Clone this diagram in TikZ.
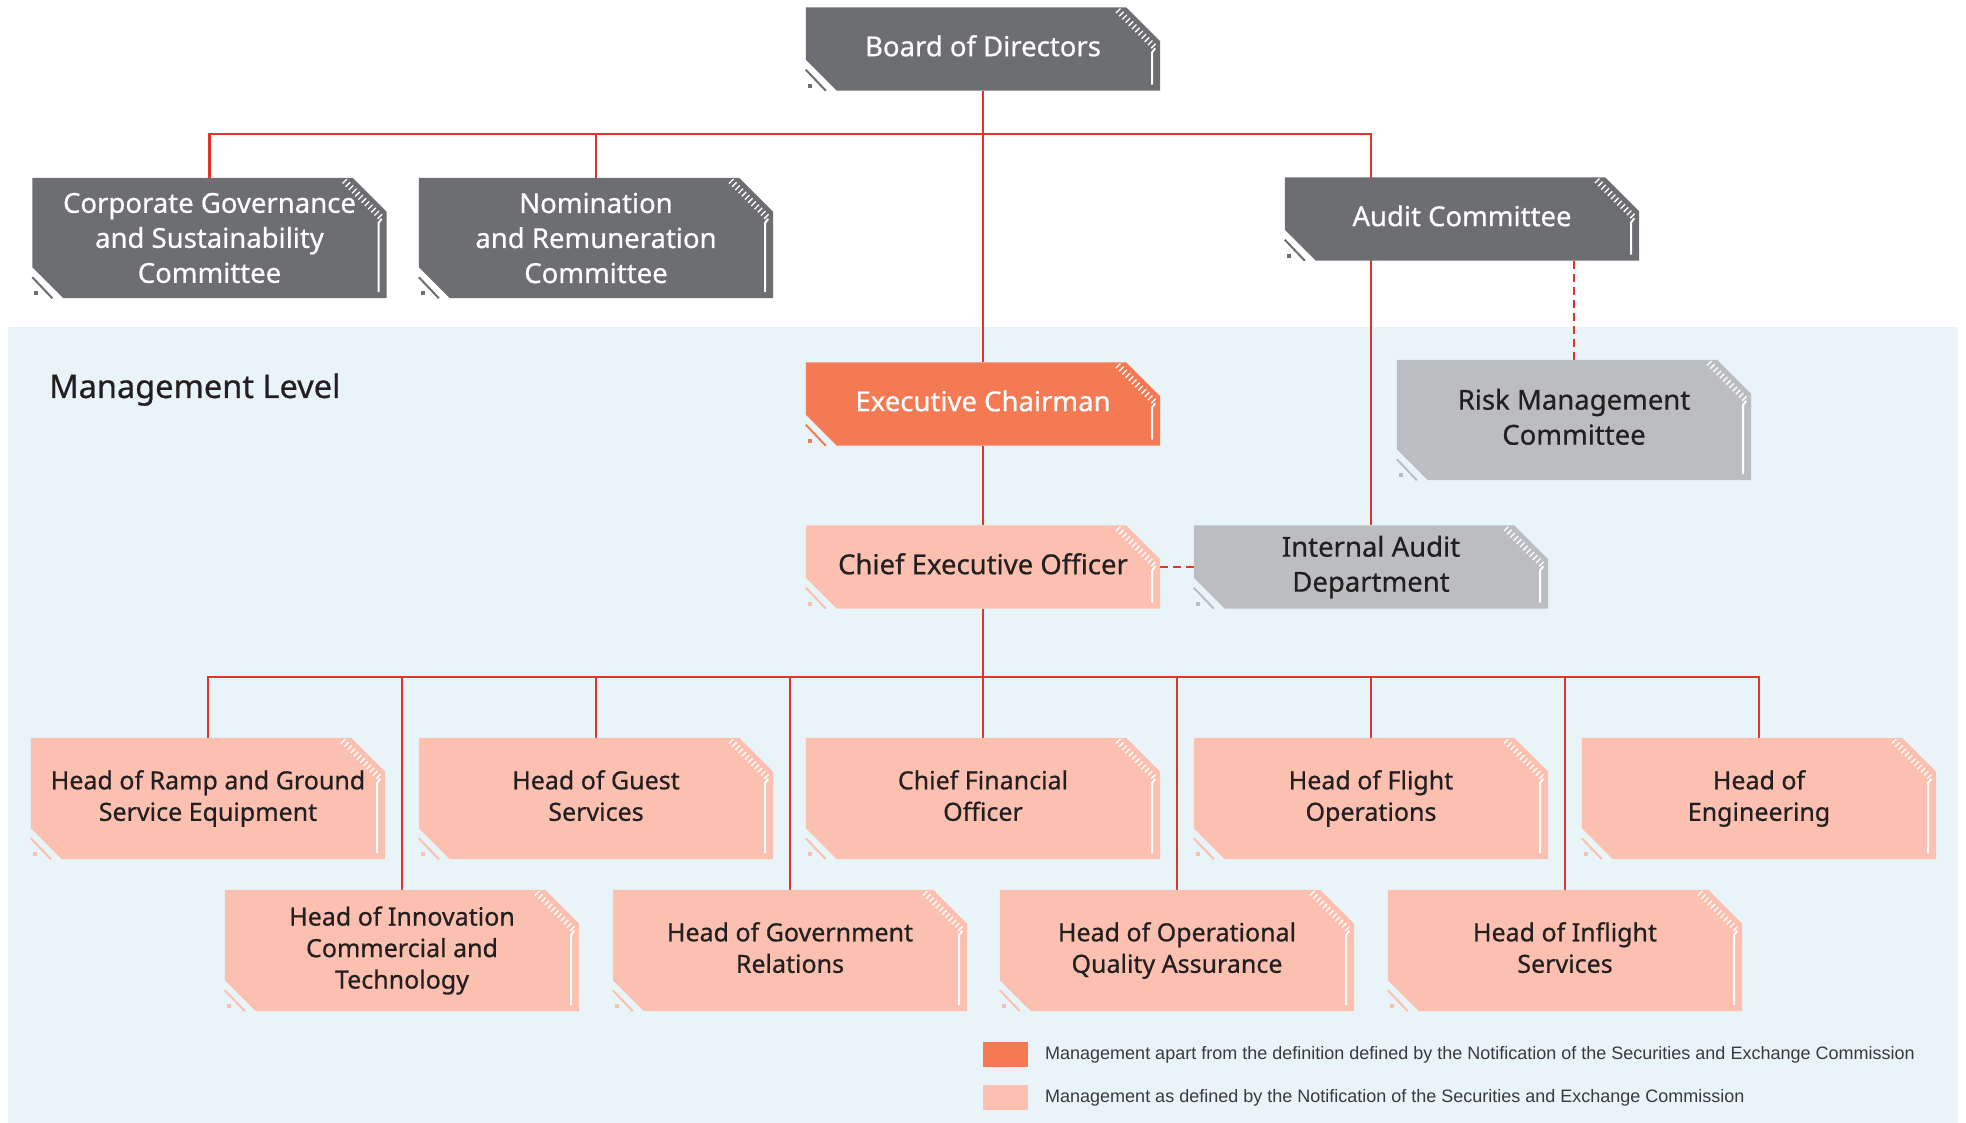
\documentclass[tikz,border=0pt]{standalone}
\usepackage{fontspec}
\setmainfont{Noto Sans}[RawFeature={embolden=0.6}]
\newfontfamily\legendfont{Liberation Sans}
\usetikzlibrary{calc}

\definecolor{cdark}{HTML}{6D6E72}
\definecolor{clight}{HTML}{BCBDC0}
\definecolor{corange}{HTML}{F47A54}
\definecolor{csalmon}{HTML}{FBC0AF}
\definecolor{cred}{HTML}{E5322B}
\definecolor{cbg}{HTML}{E9F4F9}
\definecolor{ctext}{HTML}{231F20}
\definecolor{clegend}{HTML}{3A3A3C}

\pgfdeclarelayer{bg}
\pgfdeclarelayer{lines}
\pgfdeclarelayer{shapes}
\pgfsetlayers{bg,lines,shapes,main}

% chamfered box with hatch and edge trims, drawn behind a named node
\newcommand\orgshape[2]{%
  \begin{pgfonlayer}{shapes}
    \fill[#2] (#1.north west) -- ($(#1.north east)+(-34,0)$) -- ($(#1.north east)+(0,34)$)
      -- (#1.south east) -- ($(#1.south west)+(31,0)$) -- ($(#1.south west)+(0,-31)$) -- cycle;
    \draw[#2,line width=2pt] ($(#1.south west)+(0,-21)$) -- ($(#1.south west)+(20,0)$);
    \fill[#2] ($(#1.south west)+(2,-3)$) rectangle ($(#1.south west)+(6,-7)$);
    \foreach \i in {0,...,11}{
      \draw[white,line width=1.3pt]
        ($(#1.north east)+(-42+3.2*\i-2.25,3.5+3.2*\i+2.25)$) -- ++(4.5,-4.5);
    }
    \draw[white,line width=2pt] ($(#1.north east)+(-5,41)$) -- ($(#1.north east)+(-8,45)$)
      -- ($(#1.south east)+(-8,-6)$);
  \end{pgfonlayer}}

\tikzset{
  orgbox/.style={inner sep=0pt, minimum width=354pt, align=center,
    font=\fontsize{27.5}{35}\selectfont,
    execute at end node={\vphantom{y}}},
  topbox/.style={orgbox, minimum height=83pt},
  tallbox/.style={orgbox, minimum height=120pt},
  % three-line committee boxes: no descender padding, taller first line
  commbox/.style={inner sep=0pt, minimum width=354pt, minimum height=120pt,
    align=center, text=white, font=\fontsize{27.5}{35}\selectfont,
    execute at begin node={\rule{0pt}{0.9em}}},
  rowbox/.style={orgbox, minimum height=121pt, text=ctext,
    font=\fontsize{25}{31.5}\selectfont},
  conn/.style={cred, line width=2.4pt},
  dashconn/.style={conn, dash pattern=on 8pt off 5pt},
  legsq/.style={inner sep=0pt, minimum width=45pt, minimum height=25pt},
  legtext/.style={inner sep=0pt, anchor=west, text=clegend,
    font=\legendfont\fontsize{18}{21}\selectfont},
}

\begin{document}
\begin{tikzpicture}[x=1pt,y=-1pt]
\useasboundingbox (0,0) rectangle (1966,1123);
\begin{pgfonlayer}{bg}
  \fill[white] (0,0) rectangle (1966,1123);
  \fill[cbg] (8,327) rectangle (1958,1123);
\end{pgfonlayer}

% board and committees
\node[topbox, text=white] (board) at (983,49) {Board of Directors};
\orgshape{board}{cdark}
\node[commbox] (cgsc) at (209.5,238) {Corporate Governance\\and Sustainability\\Committee};
\orgshape{cgsc}{cdark}
\node[commbox] (nrc) at (596,238) {Nomination\\and Remuneration\\Committee};
\orgshape{nrc}{cdark}
\node[topbox, text=white] (audit) at (1462,219) {Audit Committee};
\orgshape{audit}{cdark}

% management level
\node[anchor=base west, inner sep=0pt, text=ctext, font=\fontsize{32.5}{38}\selectfont]
  (mlevel) at (49,398) {Management Level};
\node[topbox, text=white] (exec) at (983,404) {Executive Chairman};
\orgshape{exec}{corange}
\node[tallbox, text=ctext] (risk) at (1574,420) {Risk Management\\Committee};
\orgshape{risk}{clight}
\node[topbox, text=ctext] (ceo) at (983,567) {Chief Executive Officer};
\orgshape{ceo}{csalmon}
\node[topbox, text=ctext] (ia) at (1371,567) {Internal Audit\\Department};
\orgshape{ia}{clight}

% heads, first row
\node[rowbox] (ramp) at (208,798.5) {Head of Ramp and Ground\\Service Equipment};
\orgshape{ramp}{csalmon}
\node[rowbox] (guest) at (596,798.5) {Head of Guest\\Services};
\orgshape{guest}{csalmon}
\node[rowbox] (cfo) at (983,798.5) {Chief Financial\\Officer};
\orgshape{cfo}{csalmon}
\node[rowbox] (flight) at (1371,798.5) {Head of Flight\\Operations};
\orgshape{flight}{csalmon}
\node[rowbox] (eng) at (1759,798.5) {Head of\\Engineering};
\orgshape{eng}{csalmon}

% heads, second row
\node[rowbox] (innov) at (402,950.5) {Head of Innovation\\Commercial and\\Technology};
\orgshape{innov}{csalmon}
\node[rowbox] (gov) at (790,950.5) {Head of Government\\Relations};
\orgshape{gov}{csalmon}
\node[rowbox] (oqa) at (1177,950.5) {Head of Operational\\Quality Assurance};
\orgshape{oqa}{csalmon}
\node[rowbox] (inflight) at (1565,950.5) {Head of Inflight\\Services};
\orgshape{inflight}{csalmon}

% reporting lines
\coordinate (bus1) at (983,134);
\coordinate (bus2) at (983,677);
\begin{pgfonlayer}{lines}
  \draw[conn] (board.south) -- (exec.north);
  \draw[conn] (cgsc.north) |- (bus1) -| (ia.north);
  \draw[conn] (nrc.north) -- (nrc.north |- bus1);
  \draw[dashconn] (audit.south -| risk.north) -- (risk.north);
  \draw[conn] (exec.south) -- (ceo.north);
  \draw[dashconn] (ceo.east) -- (ia.west);
  \draw[conn] (ceo.south) -- (cfo.north);
  \draw[conn] (ramp.north) |- (bus2) -| (eng.north);
  \draw[conn] (guest.north) -- (guest.north |- bus2);
  \draw[conn] (flight.north) -- (flight.north |- bus2);
  \draw[conn] (innov.north) -- (innov.north |- bus2);
  \draw[conn] (gov.north) -- (gov.north |- bus2);
  \draw[conn] (oqa.north) -- (oqa.north |- bus2);
  \draw[conn] (inflight.north) -- (inflight.north |- bus2);
\end{pgfonlayer}

% legend
\node[legsq, fill=corange] (sq1) at (1005.5,1054.5) {};
\node[legtext] (lt1) at (1045,1055) {Management apart from the definition defined by the Notification of the Securities and Exchange Commission};
\node[legsq, fill=csalmon] (sq2) at (1005.5,1097.5) {};
\node[legtext] (lt2) at (1045,1098) {Management as defined by the Notification of the Securities and Exchange Commission};
\end{tikzpicture}
\end{document}
